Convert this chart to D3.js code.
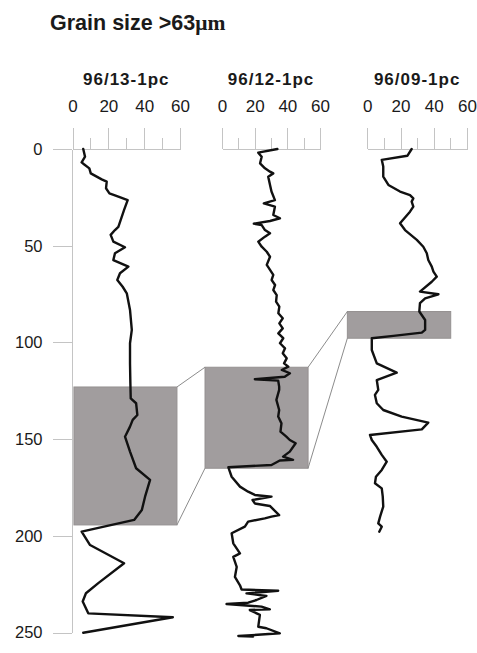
<!DOCTYPE html>
<html>
<head>
<meta charset="utf-8">
<script src="https://cdn.jsdelivr.net/npm/d3@7"></script>
<style>
  html, body { margin: 0; padding: 0; background: #ffffff; }
  svg { display: block; }
  .axis path, .axis line { stroke: #c4c4c4; stroke-width: 1; shape-rendering: crispEdges; }
  .axis text { fill: #1a1a1a; font-family: "Liberation Sans", Arial, sans-serif; }
</style>
</head>
<body>
<svg id="chart" width="477" height="653"></svg>
<script>
// Core names and the shared grain-size tick labels
const coreNames = ["96/13-1pc", "96/12-1pc", "96/09-1pc"];
const grainMajorTicks = [0, 20, 40, 60];
const grainMinorTicks = [10, 30, 50];
const depthTicks = [0, 50, 100, 150, 200, 250];

// 96/13-1pc: depth (cm) and fraction > 63 µm (%)
const core13Depth = [0, 4, 6.9, 7.9, 10, 12.6, 15.7, 16.9, 20.3, 22.9, 24.6, 26.4, 31.5, 40.2, 41.9, 44.4,
  47.9, 50.8, 53.9, 57.4, 60.8, 64.2, 67.7, 71.2, 74.6, 83.2, 93.5, 100.4, 110.8, 121.1, 128.9, 131.4,
  137.5, 140, 143.5, 148.7, 156.4, 165, 171, 179.7, 186.6, 191.7, 197.8, 204.7, 214.1, 224.4, 229.6,
  233.9, 240, 242, 250];
const core13Grain = [6, 7, 5.1, 6.4, 9.4, 10.2, 16.3, 19.1, 18.7, 20.6, 25.6, 30.8, 28.8, 25.6, 23.7, 21.3,
  22.8, 29.3, 23.7, 22.8, 31.2, 26.5, 25, 28, 30.3, 32.1, 33.1, 32.1, 32.1, 32.3, 32.5, 35.5,
  36.2, 33.6, 32.1, 29.3, 32.1, 35.5, 43.3, 40.5, 38.7, 34.4, 5.1, 9.8, 28.8, 14.4, 7.5,
  5.7, 8.8, 56, 6];

// 96/12-1pc
const core12Depth = [0, 1.9, 4, 7.4, 10, 11.7, 12.6, 14.3, 18.6, 22, 26.4, 28.1, 29.8, 34.1, 35.8, 37.2,
  38.6, 39.3, 41.9, 43.6, 45.3, 47.9, 50.5, 53.1, 55.7, 59.9, 62.5, 65.1, 67.7, 70.3, 72.9, 75.5,
  78.9, 81.5, 84.9, 87.5, 90.1, 92.7, 95.3, 97.8, 100.4, 103, 105.6, 108.2, 110.8, 112.5, 114.2,
  115.9, 117.7, 119, 119.7, 122.8, 124.5, 129.7, 134.9, 138.3, 141.8, 146.1, 148.7,
  150.4, 152.1, 156.4, 159, 160.7, 161, 163.3, 164.5, 169.4, 174.5, 177.1, 178.8, 179.7, 181.4,
  183.2, 184.5, 189.2, 190, 190.9, 192.6, 195.2, 198.6, 203.8, 209, 210.8, 216, 221.2, 225.5,
  227.7, 228.3, 229.7, 231, 233.1, 234.5, 235.2, 236.5, 237.9, 238.3, 240.8, 246.9, 247.7, 250.3,
  251.7, 252];
const core12Grain = [33.9, 22.2, 24.3, 23.3, 26.3, 29.4, 31.4, 28.3, 29.4, 30.3, 32.4, 25.6, 32.4, 31.4, 35.5, 29.4,
  19.5, 24.3, 26.3, 29.4, 26.3, 22.2, 24.3, 27.4, 29.4, 27.4, 29.4, 31.4, 30.4, 32.5, 31.4, 33.5,
  33.1, 35.1, 34.5, 37.2, 35.1, 37.2, 34.5, 37.5, 35.5, 38.6, 37.2, 39.6, 38, 40.6, 36.6,
  41.6, 38.4, 20.1, 34.4, 35, 35, 33.3, 35, 34.4, 36.4, 35.8, 39.4,
  41.5, 45.1, 41.5, 37.4, 43.5, 35.4, 30.3, 3.9, 5.9, 11, 16, 20.1, 30.3, 18.7,
  20.1, 29.3, 35, 30.3, 26.2, 16, 14, 5.9, 6.9, 11, 6.9, 9, 7.9, 11,
  12, 34.4, 15, 27.2, 21.1, 16, 2.8, 24.2, 29.3, 17, 23.2, 22.2, 27.2, 35.4,
  10, 19.1];

// 96/09-1pc
const core09Depth = [0, 3.5, 5.6, 9.1, 14.3, 18.6, 22, 23.8, 25.5, 27.2, 29.8, 32.4, 38.4, 41.9, 47, 50.5,
  53.9, 57.4, 60.8, 63.4, 66, 68.6, 73.7, 75.1, 77.2, 79.7, 84, 88.4, 93.5, 94.9, 96.6, 97.8, 103.9,
  110.8, 115.6, 119.4, 124.5, 127.1, 131.4, 134.9, 138.3, 141.4, 144.9, 147.8, 150.4, 153.9, 158.1,
  161.6, 165.9, 169.4, 172.8, 175.4, 179.7, 184.8, 190, 193.5, 195.2, 197.8];
const core09Grain = [26.7, 24.1, 8.7, 9.6, 9.6, 12.7, 19.7, 25.7, 27.7, 26.7, 27.7, 25.7, 19.7, 22.7, 29.8, 33.7,
  35.8, 36.7, 38.8, 39.8, 41.8, 38.8, 31.7, 42.8, 34.8, 31.7, 31.3, 34.8, 34.8, 32.8, 15.7, 2.7, 2.7,
  5.7, 17.7, 5.7, 6.6, 4.6, 5.7, 9.6, 20.7, 36.7, 32.8, 1.6, 2.7, 5.7, 8.7,
  11.7, 8.7, 5.2, 4.6, 8.7, 9.3, 9.6, 7.7, 6.6, 8.7, 7.2];

// Correlated intervals (depth top/bottom, grain-size extent of the shaded box)
const bandTop = [123, 112.8, 84];
const bandBottom = [194.3, 165, 97.8];
const bandLeft = [0.8, -10.4, -12];
const bandRight = [58.3, 52.7, 50.2];

const svg = d3.select("#chart");

// Depth scale shared by all cores
const y = d3.scaleLinear().domain([0, 250]).range([149, 632.7]);

// One grain-size scale per core
const xScales = [
  d3.scaleLinear().domain([0, 60]).range([72.5, 180]),
  d3.scaleLinear().domain([0, 60]).range([222, 320]),
  d3.scaleLinear().domain([0, 60]).range([367.3, 467])
];

const cores = [
  { depth: core13Depth, grain: core13Grain },
  { depth: core12Depth, grain: core12Grain },
  { depth: core09Depth, grain: core09Grain }
];

// Title
const title = svg.append("text")
  .attr("x", 50).attr("y", 30)
  .attr("font-family", "Liberation Sans, Arial, sans-serif")
  .attr("font-weight", "bold")
  .attr("font-size", 21.5)
  .attr("fill", "#1a1a1a");
title.append("tspan").text("Grain size >63");
title.append("tspan")
  .attr("font-family", "Liberation Serif, Times New Roman, serif")
  .text("μm");

// Shaded correlation boxes
const bandG = svg.append("g");
cores.forEach((c, i) => {
  const x = xScales[i];
  bandG.append("rect")
    .attr("x", x(bandLeft[i]))
    .attr("y", y(bandTop[i]))
    .attr("width", x(bandRight[i]) - x(bandLeft[i]))
    .attr("height", y(bandBottom[i]) - y(bandTop[i]))
    .attr("fill", "#a19d9e")
    .attr("stroke", "#959191")
    .attr("stroke-width", 1);
});

// Tie lines joining neighbouring boxes
for (let i = 0; i < cores.length - 1; i++) {
  const xa = xScales[i], xb = xScales[i + 1];
  [[bandTop[i], bandTop[i + 1]], [bandBottom[i], bandBottom[i + 1]]].forEach(([da, db]) => {
    bandG.append("line")
      .attr("x1", xa(bandRight[i])).attr("y1", y(da))
      .attr("x2", xb(bandLeft[i + 1])).attr("y2", y(db))
      .attr("stroke", "#8c8c8c")
      .attr("stroke-width", 1);
  });
}

// Depth axis
const depthAxis = svg.append("g")
  .attr("class", "axis")
  .attr("transform", "translate(71.5,0)")
  .call(d3.axisLeft(y).tickValues(depthTicks).tickSize(19).tickSizeOuter(0).tickPadding(10));
depthAxis.selectAll("text").attr("font-size", 16.5);

// Grain-size axes on top of each core
cores.forEach((c, i) => {
  const x = xScales[i];
  const g = svg.append("g").attr("class", "axis").attr("transform", `translate(0,${y(0)})`);
  g.call(d3.axisTop(x).tickValues(grainMajorTicks).tickSize(21).tickSizeOuter(0).tickPadding(16));
  g.selectAll("text").attr("font-size", 17);
  const gm = svg.append("g").attr("class", "axis").attr("transform", `translate(0,${y(0)})`);
  gm.call(d3.axisTop(x).tickValues(grainMinorTicks).tickSize(11).tickSizeOuter(0).tickFormat(""));
  gm.select(".domain").remove();

  svg.append("text")
    .attr("x", (x.range()[0] + x.range()[1]) / 2)
    .attr("y", 85)
    .attr("text-anchor", "middle")
    .attr("font-family", "Liberation Sans, Arial, sans-serif")
    .attr("font-weight", "bold")
    .attr("font-size", 17)
    .attr("letter-spacing", 1)
    .attr("fill", "#1a1a1a")
    .text(coreNames[i]);
});

// Grain-size curves
const line = d3.line();
cores.forEach((c, i) => {
  const x = xScales[i];
  const pts = c.depth.map((d, k) => [x(c.grain[k]), y(d)]);
  svg.append("path")
    .attr("d", line(pts))
    .attr("fill", "none")
    .attr("stroke", "#111111")
    .attr("stroke-width", 2.4)
    .attr("stroke-linejoin", "round")
    .attr("stroke-linecap", "round");
});
</script>
</body>
</html>
